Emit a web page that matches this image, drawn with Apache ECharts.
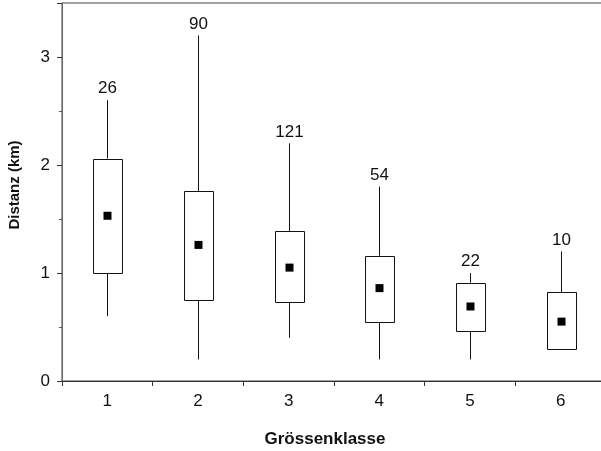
<!DOCTYPE html>
<html>
<head>
<meta charset="utf-8">
<script src="https://cdn.jsdelivr.net/npm/echarts@6/dist/echarts.min.js"></script>
<style>
html,body{margin:0;padding:0;background:#fff;}
#chart{width:601px;height:451px;}
</style>
</head>
<body>
<div id="chart"></div>
<script>
var categories = ['1', '2', '3', '4', '5', '6'];
var whiskerLow = [0.60, 0.20, 0.40, 0.20, 0.20, 0.29];
var quartile1 = [1.00, 0.75, 0.73, 0.55, 0.47, 0.29];
var quartile3 = [2.06, 1.76, 1.39, 1.16, 0.91, 0.82];
var whiskerHigh = [2.60, 3.20, 2.20, 1.80, 1.00, 1.20];
var means = [1.53, 1.26, 1.05, 0.86, 0.69, 0.55];
var counts = [26, 90, 121, 54, 22, 10];
var yTicks = [0, 1, 2, 3];

var FONT = '"Liberation Sans", Arial, Helvetica, sans-serif';

var boxData = categories.map(function (c, i) {
  return [i, whiskerLow[i], quartile1[i], quartile3[i], whiskerHigh[i], means[i], counts[i]];
});

function renderBox(params, api) {
  var idx = api.value(0);
  var lo = api.coord([idx, api.value(1)]);
  var q1 = api.coord([idx, api.value(2)]);
  var q3 = api.coord([idx, api.value(3)]);
  var hi = api.coord([idx, api.value(4)]);
  var mn = api.coord([idx, api.value(5)]);
  var n = api.value(6);
  var bw = api.size([1, 0])[0] * 0.32;
  var x = Math.round(q1[0]) + 0.5;
  var lineStyle = { stroke: '#111', lineWidth: 1, fill: null };
  var children = [];
  if (hi[1] < q3[1]) {
    children.push({ type: 'line', shape: { x1: x, y1: hi[1], x2: x, y2: q3[1] }, style: lineStyle });
  }
  if (lo[1] > q1[1]) {
    children.push({ type: 'line', shape: { x1: x, y1: q1[1], x2: x, y2: lo[1] }, style: lineStyle });
  }
  children.push({
    type: 'rect',
    shape: { x: Math.round(x - bw / 2) + 0.5, y: Math.round(q3[1]) + 0.5, width: Math.round(bw), height: Math.round(q1[1] - q3[1]) },
    style: { stroke: '#111', lineWidth: 1, fill: '#fff' }
  });
  children.push({
    type: 'rect',
    shape: { x: x - 4, y: mn[1] - 4, width: 8, height: 8 },
    style: { fill: '#000', stroke: null }
  });
  children.push({
    type: 'text',
    x: x,
    y: hi[1] - 3,
    style: { text: String(n), fill: '#111', font: '17px ' + FONT, align: 'center', verticalAlign: 'bottom' }
  });
  return { type: 'group', children: children };
}

var chart = echarts.init(document.getElementById('chart'), null, { renderer: 'canvas' });
chart.setOption({
  animation: false,
  backgroundColor: '#fff',
  grid: {
    left: 62, width: 544, top: 3, height: 378,
    outerBoundsMode: 'none',
    containLabel: false,
    show: true, borderColor: '#444', borderWidth: 1, backgroundColor: 'transparent'
  },
  xAxis: {
    type: 'category',
    data: categories,
    boundaryGap: true,
    name: 'Grössenklasse',
    nameLocation: 'middle',
    nameGap: 50,
    nameTextStyle: { fontFamily: FONT, fontSize: 17, fontWeight: 'bold', color: '#111', padding: [0, 18, 0, 0] },
    axisLine: { lineStyle: { color: '#333', width: 1 } },
    axisTick: { show: true, length: 5, lineStyle: { color: '#333' } },
    axisLabel: { fontFamily: FONT, fontSize: 17, color: '#111', margin: 12 },
    splitLine: { show: false }
  },
  yAxis: {
    type: 'value',
    min: 0,
    max: 3.5,
    interval: 1,
    name: 'Distanz (km)',
    nameLocation: 'middle',
    nameGap: 40,
    nameRotate: 90,
    nameTextStyle: { fontFamily: FONT, fontSize: 15, fontWeight: 'bold', color: '#111', padding: [0, 0, 0, 14] },
    axisLine: { show: true, lineStyle: { color: '#666', width: 1 } },
    axisTick: { show: true, length: 5, lineStyle: { color: '#333' } },
    minorTick: { show: true, splitNumber: 2, length: 3, lineStyle: { color: '#555' } },
    axisLabel: {
      fontFamily: FONT, fontSize: 17, color: '#111', margin: 12,
      formatter: function (v) { return yTicks.indexOf(v) >= 0 ? String(v) : ''; }
    },
    splitLine: { show: false }
  },
  series: [{
    type: 'custom',
    renderItem: renderBox,
    encode: { x: 0, y: [1, 2, 3, 4, 5] },
    data: boxData,
    clip: false
  }]
});
</script>
</body>
</html>
